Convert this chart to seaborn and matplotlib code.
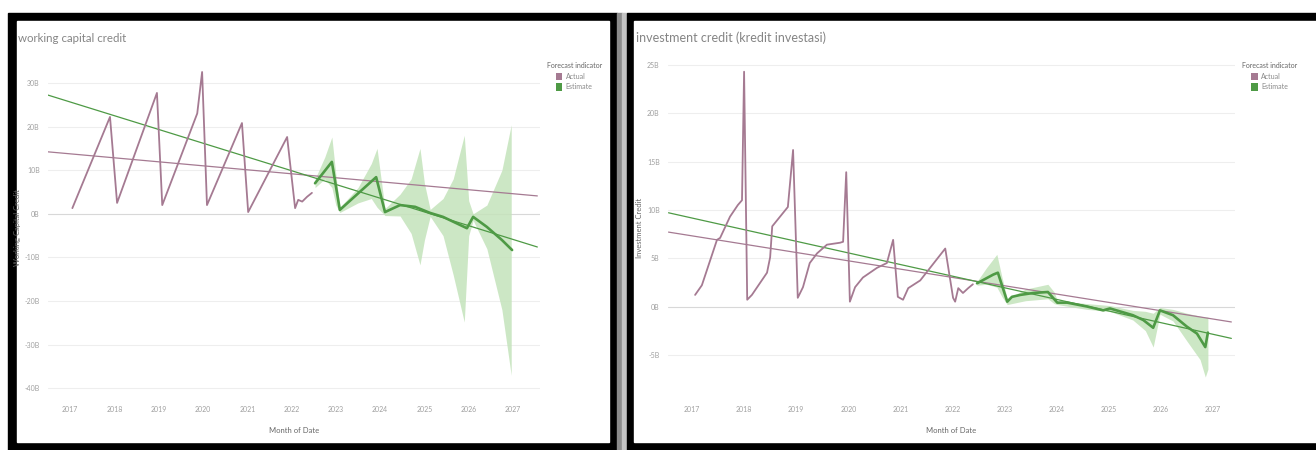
import matplotlib
matplotlib.use("Agg")
import matplotlib.pyplot as plt
from matplotlib.patches import Rectangle, Patch
import pandas as pd
import seaborn as sns

# -----------------------------
# Data (values in billions, x = decimal year)
# -----------------------------
# working capital credit
wc_actual_x = [2017.05, 2017.90, 2018.06, 2018.96, 2019.08, 2019.87, 2019.98, 2020.09,
               2020.88, 2021.02, 2021.90, 2022.08, 2022.15, 2022.24, 2022.35, 2022.46]
wc_actual_y = [1.3, 22.2, 2.5, 27.7, 2.0, 23.0, 32.5, 2.0,
               20.8, 0.4, 17.6, 1.3, 3.2, 2.8, 3.9, 4.8]
wc_est_x = [2022.53, 2022.91, 2023.09, 2023.91, 2024.11, 2024.45, 2024.79, 2025.13,
            2025.42, 2025.96, 2026.10, 2026.41, 2026.75, 2026.98]
wc_est_y = [7.0, 11.9, 0.9, 8.4, 0.4, 2.0, 1.6, 0.2,
            -0.7, -3.3, -0.7, -3.0, -6.0, -8.3]
wc_band_x = [2022.53, 2022.75, 2022.91, 2023.00, 2023.09, 2023.50, 2023.80, 2023.93,
             2024.11, 2024.45, 2024.70, 2024.90, 2025.00, 2025.13, 2025.42, 2025.65,
             2025.90, 2026.00, 2026.10, 2026.41, 2026.75, 2026.96]
wc_band_hi = [8.0, 13.0, 17.6, 9.0, 1.5, 6.0, 11.5, 15.0,
              1.2, 4.5, 8.0, 15.0, 7.0, 1.0, 3.5, 8.0,
              18.0, 3.0, 0.0, 2.0, 10.0, 20.4]
wc_band_lo = [6.0, 8.0, 6.0, 2.0, 0.3, 2.5, 3.5, 1.5,
              -0.4, -0.5, -4.5, -11.7, -6.0, -0.6, -5.0, -14.0,
              -24.8, -5.0, -1.5, -8.0, -22.0, -37.0]
wc_trend_x = [2016.50, 2027.55]
wc_trend_actual = [14.2, 4.1]
wc_trend_est = [27.2, -7.6]
wc_ticks = [30, 20, 10, 0, -10, -20, -30, -40]
wc_labels = ["30B", "20B", "10B", "0B", "-10B", "-20B", "-30B", "-40B"]

# investment credit
ic_actual_x = [2017.06, 2017.19, 2017.48, 2017.54, 2017.73, 2017.88, 2017.96, 2018.00,
               2018.06, 2018.15, 2018.44, 2018.50, 2018.54, 2018.75, 2018.84, 2018.94,
               2019.03, 2019.13, 2019.26, 2019.40, 2019.59, 2019.84, 2019.90, 2019.96,
               2020.03, 2020.13, 2020.28, 2020.55, 2020.74, 2020.86, 2020.95, 2021.05,
               2021.15, 2021.38, 2021.86, 2022.01, 2022.05, 2022.11, 2022.20, 2022.30,
               2022.39]
ic_actual_y = [1.2, 2.2, 6.9, 7.1, 9.3, 10.5, 11.0, 24.3,
               0.7, 1.2, 3.5, 5.1, 8.3, 9.7, 10.3, 16.2,
               0.9, 2.0, 4.5, 5.5, 6.4, 6.6, 6.7, 13.9,
               0.5, 2.0, 3.0, 4.0, 4.5, 6.9, 1.0, 0.7,
               1.9, 2.7, 6.0, 0.9, 0.5, 1.9, 1.4, 1.9,
               2.3]
ic_est_x = [2022.47, 2022.78, 2022.87, 2023.05, 2023.14, 2023.30, 2023.55, 2023.83,
            2024.01, 2024.20, 2024.58, 2024.89, 2025.02, 2025.46, 2025.66, 2025.85,
            2025.98, 2026.23, 2026.50, 2026.69, 2026.85, 2026.90]
ic_est_y = [2.4, 3.3, 3.5, 0.5, 1.0, 1.2, 1.4, 1.5,
            0.4, 0.4, 0.0, -0.4, -0.2, -0.9, -1.4, -2.2,
            -0.4, -0.9, -2.1, -2.8, -4.2, -2.7]
ic_band_x = [2022.47, 2022.65, 2022.85, 2022.95, 2023.05, 2023.40, 2023.83, 2023.95,
             2024.01, 2024.58, 2025.02, 2025.46, 2025.70, 2025.85, 2025.98, 2026.23,
             2026.50, 2026.75, 2026.85, 2026.90]
ic_band_hi = [2.6, 4.0, 5.4, 3.0, 0.8, 1.8, 2.3, 1.5,
              0.6, 0.3, 0.1, -0.4, -0.5, -0.7, -0.1, -0.3,
              -0.7, -1.0, -1.1, -1.1]
ic_band_lo = [2.2, 2.3, 2.0, 1.0, 0.2, 0.6, 0.8, 0.3,
              0.2, -0.3, -0.5, -1.4, -2.5, -4.2, -0.8, -1.5,
              -3.6, -5.5, -7.3, -6.5]
ic_trend_x = [2016.55, 2027.35]
ic_trend_actual = [7.7, -1.6]
ic_trend_est = [9.7, -3.3]
ic_ticks = [25, 20, 15, 10, 5, 0, -5]
ic_labels = ["25B", "20B", "15B", "10B", "5B", "0B", "-5B"]

years = list(range(2017, 2028))

# -----------------------------
# Style
# -----------------------------
sns.set_theme(style="white")
plt.rcParams["font.family"] = ["Lato", "DejaVu Sans"]

ACTUAL = "#a57a92"
EST = "#4e9a45"
BAND = "#c4e3bb"
W, H = 1316, 450

fig = plt.figure(figsize=(13.16, 4.5), dpi=100)
fig.patch.set_facecolor("white")


def px_rect(x0, y0, x1, y1, color):
    fig.patches.append(Rectangle((x0 / W, 1 - y1 / H), (x1 - x0) / W, (y1 - y0) / H,
                                 transform=fig.transFigure, color=color, zorder=-10))


# panel frames
px_rect(8, 13, 617, 450, "black")
px_rect(17, 21, 609, 442, "white")
px_rect(617, 13, 622, 450, "#8c8c8c")
px_rect(622, 13, 627, 450, "#c4c4c4")
px_rect(627, 13, 1316, 450, "black")
px_rect(634, 21, 1316, 442, "white")


def draw_panel(ax, actual_x, actual_y, est_x, est_y, band_x, band_hi, band_lo,
               trend_x, trend_a, trend_e, ticks, labels, ylim, xlim, ylabel, ylab_x):
    actual = pd.DataFrame({"x": actual_x, "y": actual_y})
    est = pd.DataFrame({"x": est_x, "y": est_y})
    trend = pd.DataFrame({"x": trend_x, "a": trend_a, "e": trend_e})

    ax.fill_between(band_x, band_lo, band_hi, color=BAND, alpha=0.85, lw=0, zorder=1)
    for t in ticks:
        ax.axhline(t, color="#eeeeee" if t != 0 else "#d8d8d8", lw=0.8, zorder=0)
    sns.lineplot(data=trend, x="x", y="a", ax=ax, color=ACTUAL, lw=0.9, zorder=2)
    sns.lineplot(data=trend, x="x", y="e", ax=ax, color=EST, lw=0.9, zorder=2)
    sns.lineplot(data=actual, x="x", y="y", ax=ax, color=ACTUAL, lw=1.3,
                 sort=False, zorder=3)
    sns.lineplot(data=est, x="x", y="y", ax=ax, color=EST, lw=1.9,
                 sort=False, zorder=3)

    ax.set_xlim(*xlim)
    ax.set_ylim(*ylim)
    ax.set_xticks(years)
    ax.set_xticklabels([str(y) for y in years])
    ax.set_yticks(ticks)
    ax.set_yticklabels(labels)
    ax.tick_params(axis="both", labelsize=5, colors="#a0a0a0", length=0, pad=6)
    ax.set_xlabel("Month of Date", fontsize=5.5, color="#666666", labelpad=10)
    ax.set_ylabel(ylabel, fontsize=5.5, color="#666666")
    ax.yaxis.set_label_coords(ylab_x, 0.5)
    for s in ax.spines.values():
        s.set_visible(False)
    ax.set_facecolor("none")

    handles = [Patch(facecolor=ACTUAL, edgecolor="none", label="Actual"),
               Patch(facecolor=EST, edgecolor="none", label="Estimate")]
    leg = ax.legend(handles=handles, title="Forecast indicator", loc="upper left",
                    bbox_to_anchor=(1.005, 1.0), frameon=False, fontsize=5,
                    title_fontsize=5, handlelength=0.9, handleheight=1.2,
                    handletextpad=0.5, labelspacing=0.5, borderaxespad=0.2)
    leg.get_title().set_color("#666666")
    for txt in leg.get_texts():
        txt.set_color("#888888")


# -----------------------------
# Left: working capital credit
# -----------------------------
ax1 = fig.add_axes([48 / W, 1 - 398 / H, 492 / W, 340 / H])
draw_panel(ax1, wc_actual_x, wc_actual_y, wc_est_x, wc_est_y,
           wc_band_x, wc_band_hi, wc_band_lo,
           wc_trend_x, wc_trend_actual, wc_trend_est,
           wc_ticks, wc_labels, (-42.2, 35.7), (2016.50, 2027.61),
           "Working Capital Credit", -0.055)
fig.text(18 / W, 1 - 38 / H, "working capital credit", fontsize=8.3,
         color="#858585", va="center", ha="left")

# -----------------------------
# Right: investment credit
# -----------------------------
ax2 = fig.add_axes([668 / W, 1 - 398 / H, 567 / W, 340 / H])
draw_panel(ax2, ic_actual_x, ic_actual_y, ic_est_x, ic_est_y,
           ic_band_x, ic_band_hi, ic_band_lo,
           ic_trend_x, ic_trend_actual, ic_trend_est,
           ic_ticks, ic_labels, (-9.47, 25.72), (2016.54, 2027.42),
           "Investment Credit", -0.044)
fig.text(636 / W, 1 - 38 / H, "investment credit (kredit investasi)", fontsize=9.0,
         color="#858585", va="center", ha="left")

fig.savefig("out.png", dpi=100)
